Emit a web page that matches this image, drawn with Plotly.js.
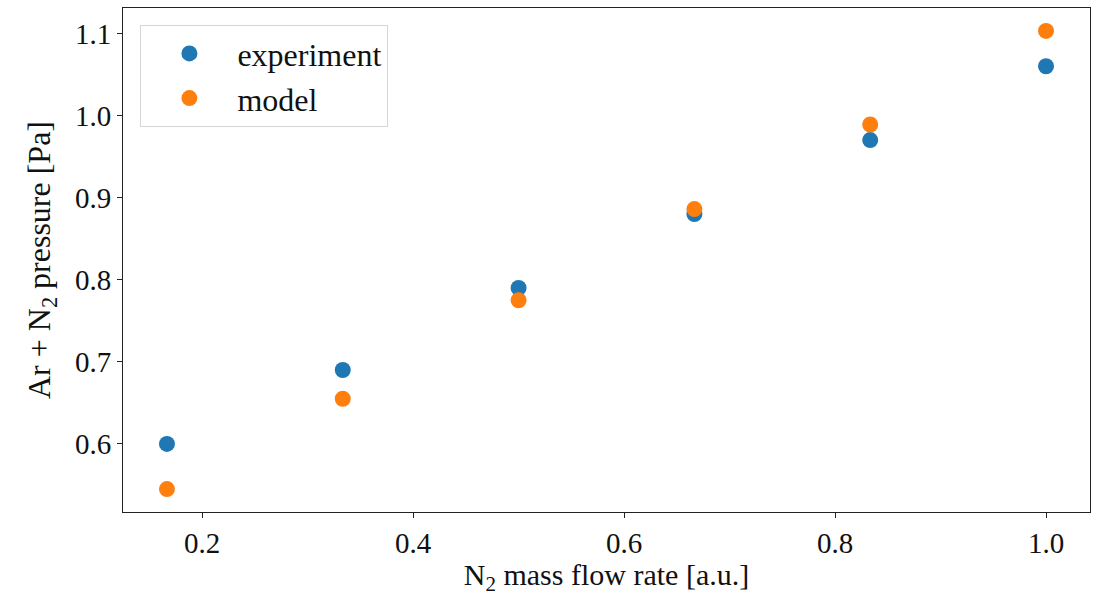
<!DOCTYPE html>
<html>
<head>
<meta charset="utf-8">
<script src="https://cdn.plot.ly/plotly-3.0.1.min.js"></script>
<style>html,body{margin:0;padding:0;background:#fff;}</style>
</head>
<body>
<div id="chart" style="width:1096px;height:596px;"></div>
<script>
const flowRate = [1/6, 2/6, 3/6, 4/6, 5/6, 1.0];
const experiment = [0.600, 0.690, 0.790, 0.880, 0.970, 1.060];
const model = [0.545, 0.655, 0.775, 0.886, 0.989, 1.103];
const xTicks = [0.2, 0.4, 0.6, 0.8, 1.0];
const xTickText = ['0.2', '0.4', '0.6', '0.8', '1.0'];
const yTicks = [0.6, 0.7, 0.8, 0.9, 1.0, 1.1];
const yTickText = ['0.6', '0.7', '0.8', '0.9', '1.0', '1.1'];

const FONT = 'Liberation Serif, DejaVu Serif, serif';

const traces = [
  {x: flowRate, y: experiment, mode: 'markers', type: 'scatter', name: 'experiment',
   marker: {color: '#1f77b4', size: 16, line: {width: 0}}},
  {x: flowRate, y: model, mode: 'markers', type: 'scatter', name: 'model',
   marker: {color: '#ff7f0e', size: 16, line: {width: 0}}}
];

const axisCommon = {
  showgrid: false, zeroline: false, showline: true, mirror: true,
  linecolor: '#222', linewidth: 1,
  ticks: 'outside', ticklen: 5, tickwidth: 1, tickcolor: '#222',
  tickfont: {family: FONT, size: 29, color: '#111'}
};

const layout = {
  width: 1096, height: 596,
  margin: {l: 123, r: 6, t: 8, b: 84},
  paper_bgcolor: '#fff', plot_bgcolor: '#fff',
  font: {family: FONT, color: '#111'},
  xaxis: Object.assign({}, axisCommon, {
    range: [0.125, 1.0417],
    tickvals: xTicks, ticktext: xTickText,
    title: {text: 'N<sub>2</sub> mass flow rate [a.u.]', font: {family: FONT, size: 30, color: '#111'}, standoff: 9}
  }),
  yaxis: Object.assign({}, axisCommon, {
    range: [0.5171, 1.1309],
    tickvals: yTicks, ticktext: yTickText,
    title: {text: 'Ar + N<sub>2</sub> pressure [Pa]', font: {family: FONT, size: 32, color: '#111'}, standoff: 14}
  }),
  showlegend: true,
  legend: {
    x: 0.018, y: 0.966, xanchor: 'left', yanchor: 'top',
    bgcolor: 'rgba(255,255,255,0.8)', bordercolor: '#d6d6d6', borderwidth: 1,
    font: {family: FONT, size: 32, color: '#111'},
    itemwidth: 86, tracegroupgap: 0
  }
};

Plotly.newPlot('chart', traces, layout, {displayModeBar: false, staticPlot: true});
</script>
</body>
</html>
